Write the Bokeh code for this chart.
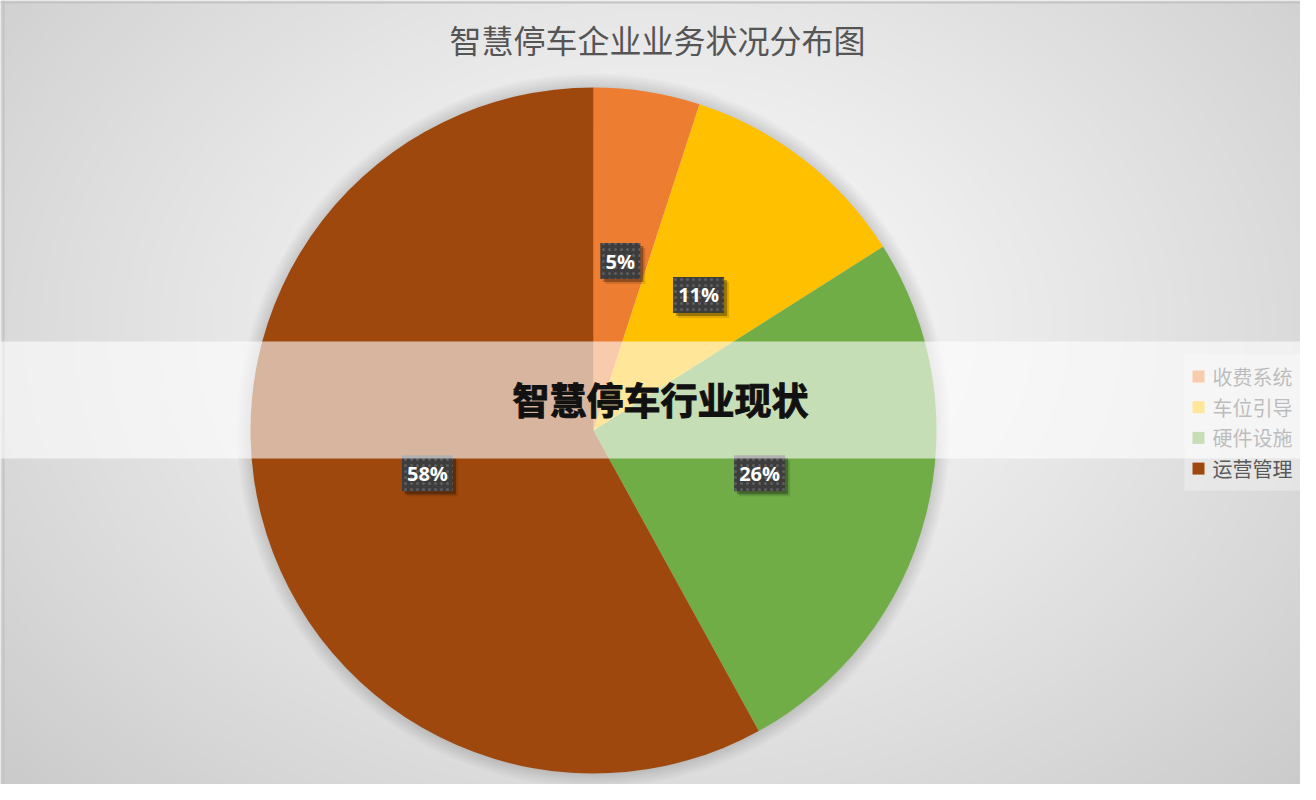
import numpy as np
from bokeh.plotting import figure
from bokeh.models import Range1d
from bokeh.core.properties import value
from bokeh.embed import file_html
from bokeh.resources import INLINE

# ---- data ----
title_text = "智慧停车企业业务状况分布图"
banner_text = "智慧停车行业现状"
categories = ["收费系统", "车位引导", "硬件设施", "运营管理"]
shares = [5, 11, 26, 58]
labels = ["5%", "11%", "26%", "58%"]
colors = ["#ED7D31", "#FFC000", "#70AD47", "#9E480E"]

# ---- canvas (coordinates = reference pixels, y measured upward) ----
W, H = 1300, 784
FULL_W, FULL_H = 1316, 800
p = figure(width=W, height=H, x_range=Range1d(0, 1300), y_range=Range1d(16, 800),
           output_backend="svg", toolbar_location=None, min_border=0,
           x_axis_type=None, y_axis_type=None)
p.grid.visible = False
p.outline_line_color = None
p.background_fill_color = "#e8e8e8"
p.border_fill_color = "white"

def Y(y_ref):
    return FULL_H - y_ref

# radial background gradient
gw, gh = 658, 400
gx = (np.arange(gw) + 0.5) * FULL_W / gw
gy_ref = FULL_H - (np.arange(gh) + 0.5) * FULL_H / gh
XX, YY = np.meshgrid(gx, gy_ref)
d = np.sqrt(((XX - 658) / 700.0) ** 2 + ((YY - 330) / 520.0) ** 2)
c = np.clip(251 - 36 * d ** 1.2, 195, 252).astype(np.uint32)
img = (255 << 24) | (c << 16) | (c << 8) | c
p.image_rgba(image=[img.astype(np.uint32)], x=0, y=0, dw=FULL_W, dh=FULL_H)

# frame lines of the chart area
p.line(x=[0, FULL_W], y=[Y(2), Y(2)], line_color="#c4c4c4", line_width=2)
p.line(x=[3, 3], y=[Y(0), Y(FULL_H)], line_color="#c4c4c4", line_width=2)

# ---- pie ----
cx, cy, R = 593, Y(430), 343
cum = np.cumsum(shares)
tot = float(sum(shares))
start = [np.pi / 2 - 2 * np.pi * (cv - s) / tot for cv, s in zip(cum, shares)]
end = [np.pi / 2 - 2 * np.pi * cv / tot for cv in cum]

# soft shadow around pie
for k in range(1, 12):
    p.circle(x=[cx], y=[cy], radius=R + k * 1.3, fill_color="black",
             fill_alpha=0.012, line_color=None)

p.wedge(x=cx, y=cy, radius=R, start_angle=start, end_angle=end,
        direction="clock", fill_color=colors, line_color=None)

# data labels
mid = [(cv - s / 2) / tot for cv, s in zip(cum, shares)]
ang = [np.pi / 2 - 2 * np.pi * m for m in mid]
lx = [cx + 0.5 * R * np.cos(a) for a in ang]
ly = [cy + 0.5 * R * np.sin(a) for a in ang]
bw = [18 + 11 * len(t) for t in labels]
p.rect(x=[v + 5 for v in lx], y=[v - 5 for v in ly], width=bw, height=36,
       fill_color="black", fill_alpha=0.12, line_color=None)
p.rect(x=[v + 3 for v in lx], y=[v - 3 for v in ly], width=bw, height=36,
       fill_color="black", fill_alpha=0.3, line_color=None)
p.rect(x=lx, y=ly, width=bw, height=36, fill_color="#3d3d3d", line_color=None,
       hatch_pattern=".", hatch_color="#9a9a9a", hatch_scale=6, hatch_weight=0.6,
       hatch_alpha=0.35)
p.text(x=lx, y=ly, text=labels, text_align="center", text_baseline="middle",
       text_color="white", text_font=value("Open Sans"), text_font_style="bold",
       text_font_size="20px")

# ---- title ----
p.text(x=[657], y=[Y(38)], text=[title_text], text_align="center",
       text_baseline="middle", text_color="#555555",
       text_font=value("Noto Sans CJK SC"), text_font_size="32px")

# ---- legend ----
p.rect(x=[1243], y=[Y(422)], width=118, height=136, fill_color="#f4f4f4",
       fill_alpha=0.45, line_color=None)
leg_y = [Y(376 + i * 30.7) for i in range(len(categories))]
p.rect(x=[1198] * len(categories), y=leg_y, width=12, height=12,
       fill_color=colors, line_color=None)
p.text(x=[1212] * len(categories), y=leg_y, text=categories, text_align="left",
       text_baseline="middle", text_color="#595959",
       text_font=value("Noto Sans CJK SC"), text_font_size="20px")

# ---- translucent banner ----
p.rect(x=[658], y=[Y(399.5)], width=1400, height=117, fill_color="white",
       fill_alpha=0.6, line_color=None)
p.text(x=[660], y=[Y(398)], text=[banner_text], text_align="center",
       text_baseline="middle", text_color="#111111",
       text_outline_color="#111111",
       text_font=value("Noto Sans CJK SC"),
       text_font_style="bold", text_font_size="37px")

open("out.html", "w").write(file_html(p, INLINE))
